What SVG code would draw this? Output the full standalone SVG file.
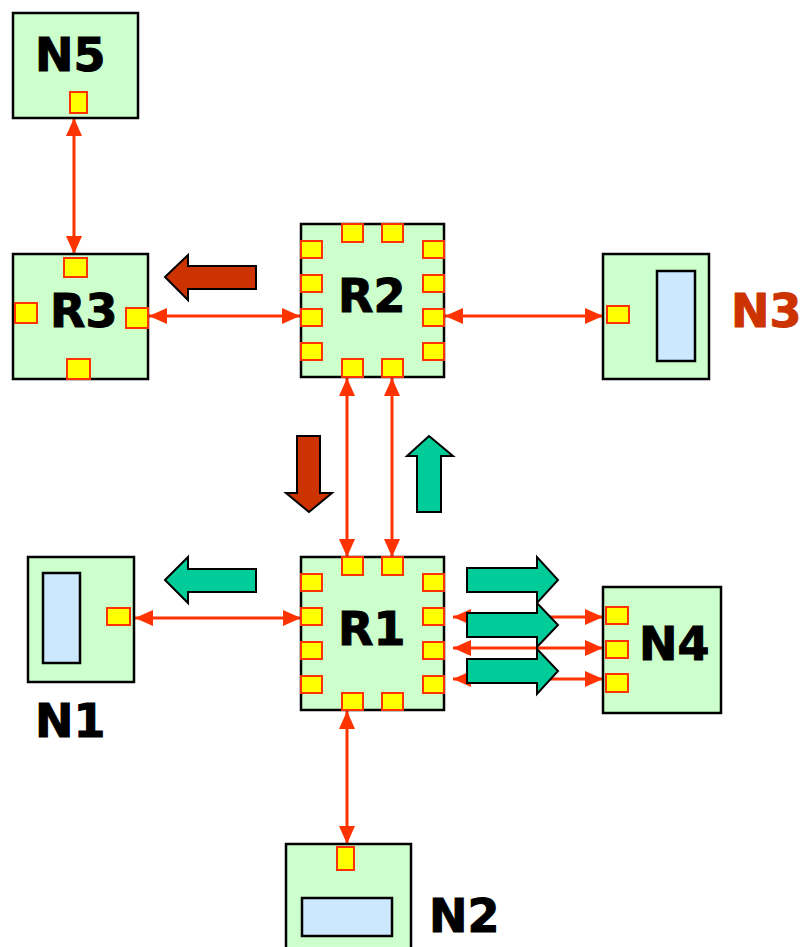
<svg xmlns="http://www.w3.org/2000/svg" width="803" height="947" viewBox="0 0 803 947">
<style>
.box{fill:#ccffcc;stroke:#000;stroke-width:2.5}
.port{fill:#ffff00;stroke:#ff3300;stroke-width:2}
.inner{fill:#cce8ff;stroke:#000;stroke-width:2.5}
.lbl{font-family:"DejaVu Sans",Verdana,sans-serif;font-weight:bold;font-size:46px;fill:#000;stroke:#000;stroke-width:1}
.link{stroke:#ff3300;stroke-width:3;fill:none;marker-start:url(#ah);marker-end:url(#ah)}
.brown{fill:#cc3300;stroke:#000;stroke-width:2}
.green{fill:#00cc99;stroke:#000;stroke-width:2}
</style>
<defs>
<marker id="ah" markerUnits="userSpaceOnUse" markerWidth="18" markerHeight="16" refX="18" refY="8" orient="auto-start-reverse" overflow="visible">
<path d="M0,0 L18,8 L0,16 z" fill="#ff3300"/>
</marker>
</defs>
<rect width="803" height="947" fill="#fff"/>

<g id="connectors">
<line class="link" x1="74" y1="118" x2="74" y2="254"/>
<line class="link" x1="149" y1="316" x2="300" y2="316"/>
<line class="link" x1="445" y1="316" x2="603" y2="316"/>
<line class="link" x1="347" y1="378" x2="347" y2="557"/>
<line class="link" x1="392" y1="378" x2="392" y2="557"/>
<line class="link" x1="135" y1="618" x2="301" y2="618"/>
<line class="link" x1="347" y1="711" x2="347" y2="844"/>
<line class="link" x1="453" y1="617" x2="603" y2="617"/>
<line class="link" x1="453" y1="648" x2="603" y2="648"/>
<line class="link" x1="453" y1="679" x2="603" y2="679"/>
</g>

<g id="flow-arrows">
<polygon class="brown" points="165,277 188,255 188,266 256,266 256,289 188,289 188,300"/>
<polygon class="brown" points="297,436 320,436 320,493 332,493 309,512 286,493 297,493"/>
<polygon class="green" points="429,436 453,456 441,456 441,512 417,512 417,456 407,456"/>
<polygon class="green" points="165,580 188,557 188,569 256,569 256,592 188,592 188,603"/>
<polygon class="green" points="467,568 537,568 537,557 558,580 537,603 537,592 467,592"/>
<polygon class="green" points="467,613 537,613 537,603 558,625 537,647 537,637 467,637"/>
<polygon class="green" points="467,659 537,659 537,649 558,671 537,694 537,683 467,683"/>
</g>

<g id="N5">
<rect class="box" x="13" y="13" width="125" height="105"/>
<rect class="port" x="70" y="92" width="17" height="21"/>
<text class="lbl" x="35" y="71">N5</text>
</g>

<g id="R3">
<rect class="box" x="13" y="254" width="135" height="125"/>
<rect class="port" x="64" y="258" width="23" height="19"/>
<rect class="port" x="15" y="303" width="22" height="20"/>
<rect class="port" x="126" y="308" width="22" height="20"/>
<rect class="port" x="67" y="359" width="23" height="20"/>
<text class="lbl" x="50" y="327">R3</text>
</g>

<g id="R2">
<rect class="box" x="301" y="224" width="143" height="153"/>
<rect class="port" x="342" y="224" width="21" height="18"/>
<rect class="port" x="382" y="224" width="21" height="18"/>
<rect class="port" x="301" y="241" width="21" height="17"/>
<rect class="port" x="301" y="275" width="21" height="17"/>
<rect class="port" x="301" y="309" width="21" height="17"/>
<rect class="port" x="301" y="343" width="21" height="17"/>
<rect class="port" x="423" y="241" width="21" height="17"/>
<rect class="port" x="423" y="275" width="21" height="17"/>
<rect class="port" x="423" y="309" width="21" height="17"/>
<rect class="port" x="423" y="343" width="21" height="17"/>
<rect class="port" x="342" y="359" width="21" height="18"/>
<rect class="port" x="382" y="359" width="21" height="18"/>
<text class="lbl" x="338" y="312">R2</text>
</g>

<g id="N3">
<rect class="box" x="603" y="254" width="106" height="125"/>
<rect class="port" x="607" y="306" width="22" height="17"/>
<rect class="inner" x="657" y="271" width="38" height="90"/>
<text class="lbl" x="731" y="327" style="fill:#cc3300;stroke:#cc3300">N3</text>
</g>

<g id="R1">
<rect class="box" x="301" y="557" width="143" height="153"/>
<rect class="port" x="342" y="557" width="21" height="18"/>
<rect class="port" x="382" y="557" width="21" height="18"/>
<rect class="port" x="301" y="574" width="21" height="17"/>
<rect class="port" x="301" y="608" width="21" height="17"/>
<rect class="port" x="301" y="642" width="21" height="17"/>
<rect class="port" x="301" y="676" width="21" height="17"/>
<rect class="port" x="423" y="574" width="21" height="17"/>
<rect class="port" x="423" y="608" width="21" height="17"/>
<rect class="port" x="423" y="642" width="21" height="17"/>
<rect class="port" x="423" y="676" width="21" height="17"/>
<rect class="port" x="342" y="693" width="21" height="17"/>
<rect class="port" x="382" y="693" width="21" height="17"/>
<text class="lbl" x="338" y="645">R1</text>
</g>

<g id="N1">
<rect class="box" x="28" y="557" width="106" height="125"/>
<rect class="inner" x="43" y="573" width="37" height="90"/>
<rect class="port" x="107" y="608" width="23" height="17"/>
<text class="lbl" x="35" y="737">N1</text>
</g>

<g id="N4">
<rect class="box" x="603" y="587" width="118" height="126"/>
<rect class="port" x="606" y="607" width="22" height="17"/>
<rect class="port" x="606" y="641" width="22" height="17"/>
<rect class="port" x="606" y="674" width="22" height="18"/>
<text class="lbl" x="639" y="660">N4</text>
</g>

<g id="N2">
<rect class="box" x="286" y="844" width="125" height="120"/>
<rect class="port" x="337" y="847" width="17" height="23"/>
<rect class="inner" x="302" y="898" width="90" height="38"/>
<text class="lbl" x="429" y="932">N2</text>
</g>
</svg>
